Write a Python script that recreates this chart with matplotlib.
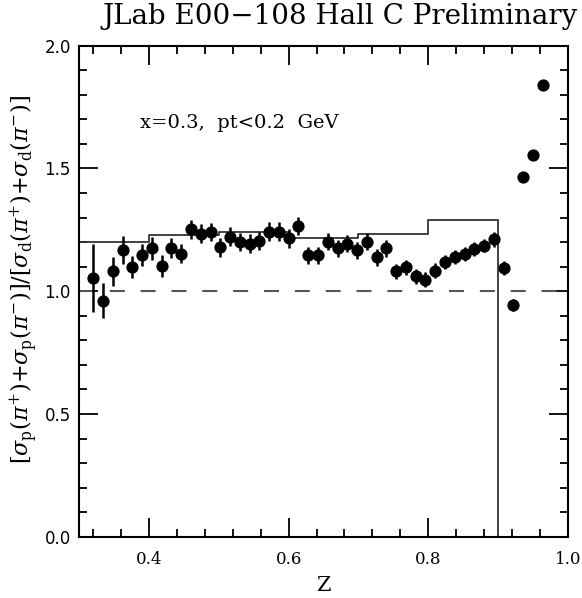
import numpy as np
import matplotlib
matplotlib.use("Agg")
import matplotlib.pyplot as plt
from matplotlib.ticker import MultipleLocator

plt.rcParams['mathtext.fontset'] = 'dejavuserif'

# measured ratio vs z
z = [0.320, 0.334, 0.348, 0.362, 0.376, 0.390, 0.404, 0.418, 0.432, 0.446,
     0.460, 0.474, 0.488, 0.502, 0.516, 0.530, 0.544, 0.558, 0.572, 0.586,
     0.600, 0.614, 0.628, 0.642, 0.656, 0.670, 0.684, 0.698, 0.712, 0.726,
     0.740, 0.754, 0.768, 0.782, 0.796, 0.810, 0.824, 0.838, 0.852, 0.866,
     0.880, 0.894, 0.908, 0.922, 0.936, 0.950, 0.964]
ratio = [1.054, 0.962, 1.081, 1.167, 1.097, 1.146, 1.174, 1.101, 1.177, 1.153,
         1.252, 1.234, 1.241, 1.179, 1.222, 1.200, 1.194, 1.204, 1.242, 1.242,
         1.215, 1.266, 1.146, 1.146, 1.201, 1.174, 1.193, 1.167, 1.201, 1.138,
         1.174, 1.081, 1.097, 1.061, 1.047, 1.084, 1.119, 1.140, 1.152, 1.173,
         1.186, 1.211, 1.095, 0.945, 1.465, 1.556, 1.840]
err = [0.140, 0.070, 0.060, 0.057, 0.045, 0.045, 0.045, 0.045, 0.040, 0.040,
       0.038, 0.038, 0.038, 0.038, 0.038, 0.038, 0.038, 0.038, 0.038, 0.038,
       0.038, 0.038, 0.035, 0.035, 0.035, 0.035, 0.035, 0.035, 0.035, 0.035,
       0.033, 0.030, 0.030, 0.030, 0.030, 0.030, 0.028, 0.028, 0.028, 0.028,
       0.028, 0.030, 0.030, 0.025, 0.012, 0.012, 0.012]

# model histogram (bin edges and levels)
bin_edges = [0.3, 0.4, 0.5, 0.6, 0.7, 0.8, 0.9]
bin_vals = [1.200, 1.228, 1.242, 1.217, 1.234, 1.290]

fig = plt.figure(figsize=(5.82, 5.98), dpi=100)
ax = fig.add_axes([0.1363, 0.1025, 0.8393, 0.8211])

# histogram drawn as steps, dropping to zero at the last edge
hx = [bin_edges[0]]
hy = [bin_vals[0]]
for i in range(len(bin_vals)):
    hx += [bin_edges[i], bin_edges[i+1]]
    hy += [bin_vals[i], bin_vals[i]]
hx.append(bin_edges[-1])
hy.append(0.0)
ax.plot(hx, hy, color="#333333", lw=1.3)

ax.axhline(1.0, color="#555555", lw=1.5, dashes=(7.2, 7.6))

ax.errorbar(z, ratio, yerr=err, fmt="o", color="black", ms=7.8,
            elinewidth=1.8, capsize=0, zorder=3)

ax.set_xlim(0.3, 1.0)
ax.set_ylim(0.0, 2.0)
ax.xaxis.set_minor_locator(MultipleLocator(0.04))
ax.yaxis.set_minor_locator(MultipleLocator(0.1))
ax.tick_params(which="both", direction="in", top=True, right=True, width=1.3)
ax.tick_params(which="major", length=14)
ax.tick_params(which="minor", length=6)
ax.tick_params(axis="x", labelsize=12, pad=10)
ax.tick_params(axis="y", labelsize=12, pad=6)
ax.set_xticks([0.4, 0.6, 0.8, 1.0])
ax.set_xticklabels(["0.4", "0.6", "0.8", "1.0"], family="DejaVu Serif")
ax.set_yticks([0.0, 0.5, 1.0, 1.5, 2.0])
ax.set_yticklabels(["0.0", "0.5", "1.0", "1.5", "2.0"], family="DejaVu Sans")
for s in ax.spines.values():
    s.set_linewidth(1.5)

ax.set_xlabel("Z", family="DejaVu Serif", fontsize=15, labelpad=6)
ax.set_ylabel(r"$[\sigma_{\rm p}(\pi^{+}){+}\sigma_{\rm p}(\pi^{-})]/[\sigma_{\rm d}(\pi^{+}){+}\sigma_{\rm d}(\pi^{-})]$",
              fontsize=16)
ax.yaxis.set_label_coords(-0.08, 0.525)

ax.text(0.387, 1.686, "x=0.3,  pt<0.2  GeV", family="DejaVu Serif",
        fontsize=14, va="center", ha="left")
fig.text(0.993, 0.972, "JLab E00\u2212108 Hall C Preliminary", family="DejaVu Serif",
         fontsize=20, ha="right", va="center")

fig.savefig("out.png", dpi=100)
